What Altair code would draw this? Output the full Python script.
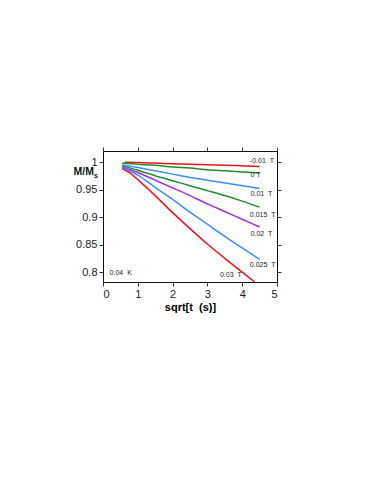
import altair as alt
import pandas as pd

# ---- data ----
series_keys = ["-0.01 T", "0 T", "0.01 T", "0.015 T", "0.02 T", "0.025 T", "0.03 T"]
key_colors = ["#e8151b", "#1f8f2e", "#3f8cff", "#1f8f2e", "#9a32dc", "#3f8cff", "#e8151b"]

x_m001 = [0.63, 1.0, 1.5, 2.0, 2.5, 3.0, 3.5, 4.0, 4.5]
y_m001 = [0.9995, 0.999, 0.998, 0.997, 0.996, 0.995, 0.994, 0.993, 0.992]

x_std = [0.55, 1.0, 1.5, 2.0, 2.5, 3.0, 3.5, 4.0, 4.5]
y_0 = [0.998, 0.996, 0.994, 0.991, 0.989, 0.986, 0.984, 0.982, 0.980]
y_001 = [0.995, 0.990, 0.984, 0.978, 0.972, 0.967, 0.962, 0.957, 0.952]
y_0015 = [0.993, 0.985, 0.975, 0.966, 0.957, 0.948, 0.939, 0.929, 0.918]
y_002 = [0.991, 0.981, 0.967, 0.953, 0.939, 0.924, 0.910, 0.896, 0.882]
y_0025 = [0.990, 0.976, 0.954, 0.932, 0.909, 0.887, 0.865, 0.844, 0.823]

x_003 = [0.55, 0.75, 1.0, 1.5, 2.0, 2.5, 3.0, 3.5, 4.0, 4.36]
y_003 = [0.988, 0.981, 0.968, 0.939, 0.908, 0.879, 0.851, 0.825, 0.800, 0.782]

label_texts = ["-0.01\u00a0\u00a0T", "0\u00a0T", "0.01\u00a0\u00a0T", "0.015\u00a0\u00a0T",
               "0.02\u00a0\u00a0T", "0.025\u00a0\u00a0T", "0.03\u00a0\u00a0T", "0.04\u00a0\u00a0K"]
label_x = [4.22, 4.24, 4.24, 4.22, 4.24, 4.22, 3.36, 0.19]
label_y = [1.001, 0.976, 0.9417, 0.904, 0.869, 0.812, 0.795, 0.7985]

x_ticks = [0, 1, 2, 3, 4, 5]
y_ticks = [0.8, 0.85, 0.9, 0.95, 1.0]

# ---- build table ----
rows = []
curves = [
    (series_keys[0], x_m001, y_m001),
    (series_keys[1], x_std, y_0),
    (series_keys[2], x_std, y_001),
    (series_keys[3], x_std, y_0015),
    (series_keys[4], x_std, y_002),
    (series_keys[5], x_std, y_0025),
    (series_keys[6], x_003, y_003),
]
for key, xs, ys in curves:
    for i, (xv, yv) in enumerate(zip(xs, ys)):
        rows.append({"series": key, "x": xv, "y": yv, "order": i})
df = pd.DataFrame(rows)
labels_df = pd.DataFrame({"text": label_texts, "x": label_x, "y": label_y})

FONT = "Liberation Sans"
xscale = alt.Scale(domain=[0, 5], nice=False, zero=False)
yscale = alt.Scale(domain=[0.782, 1.02], nice=False, zero=False)

lines = alt.Chart(df).mark_line(strokeWidth=1.5, interpolate="monotone", clip=True).encode(
    x=alt.X("x:Q", scale=xscale,
            axis=alt.Axis(values=x_ticks, format="d", grid=False, tickSize=4,
                          labelFontSize=11, labelFont=FONT, labelColor="#222",
                          title="sqrt[t\u00a0\u00a0(s)]", titleFont=FONT, titleFontSize=11,
                          titleFontWeight="bold", titlePadding=2, domain=True,
                          domainColor="#111", tickColor="#333")),
    y=alt.Y("y:Q", scale=yscale,
            axis=alt.Axis(values=y_ticks, grid=False, tickSize=4,
                          labelFontSize=11, labelFont=FONT, labelColor="#222",
                          labelExpr="datum.value == 1 ? '1' : format(datum.value, '.3~f')",
                          title=None, domain=True, domainColor="#111", tickColor="#333")),
    color=alt.Color("series:N", scale=alt.Scale(domain=series_keys, range=key_colors), legend=None),
    order="order:Q",
)

mirror = alt.Chart(df).mark_line(opacity=0).encode(
    x=alt.X("x:Q", scale=xscale,
            axis=alt.Axis(orient="top", values=x_ticks, grid=False, tickSize=4, labels=False,
                          title=None, domain=True, domainColor="#111", tickColor="#333")),
    y=alt.Y("y:Q", scale=yscale,
            axis=alt.Axis(orient="right", values=y_ticks, grid=False, tickSize=4, labels=False,
                          title=None, domain=True, domainColor="#111", tickColor="#333")),
    detail="series:N",
)

texts = alt.Chart(labels_df).mark_text(align="left", baseline="middle", fontSize=7,
                                       font=FONT, color="#222").encode(
    x=alt.X("x:Q", scale=xscale, axis=None),
    y=alt.Y("y:Q", scale=yscale, axis=None),
    text="text:N",
)

ytitle_main = alt.Chart(labels_df.head(1)).mark_text(
    text="M/M", align="right", baseline="alphabetic", fontSize=10.5, fontWeight="bold",
    font=FONT, color="#111").encode(x=alt.value(-9), y=alt.value(24))
ytitle_sub = alt.Chart(labels_df.head(1)).mark_text(
    text="s", align="left", baseline="alphabetic", fontSize=7, fontWeight="bold",
    font=FONT, color="#111").encode(x=alt.value(-9), y=alt.value(26.5))

chart = alt.layer(lines, mirror, texts, ytitle_main, ytitle_sub).resolve_axis(
    x="independent", y="independent"
).properties(
    width=174, height=131,
    autosize=alt.AutoSizeParams(type="none"),
    padding={"left": 95, "top": 143, "right": 80, "bottom": 150},
).configure_view(stroke="#111", strokeWidth=1).configure(background="white")

chart.save("out.html", embed_options={"renderer": "svg", "actions": False})
